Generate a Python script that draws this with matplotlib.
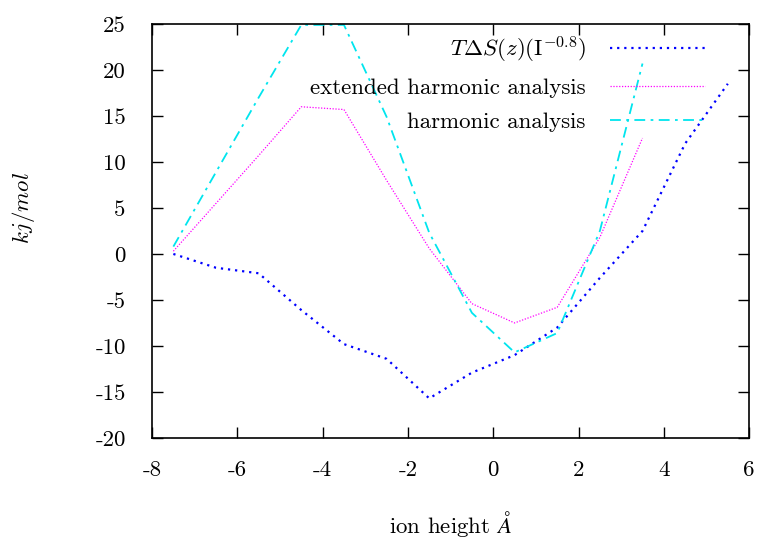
import matplotlib
matplotlib.use("Agg")
import matplotlib.pyplot as plt
import numpy as np

plt.rcParams["font.family"] = ["cmr10", "DejaVu Serif"]
plt.rcParams["mathtext.fontset"] = "cm"
plt.rcParams["axes.unicode_minus"] = False
plt.rcParams["axes.formatter.use_mathtext"] = False

# ion height positions
z = [-7.5, -6.5, -5.5, -4.5, -3.5, -2.5, -1.5, -0.5, 0.5, 1.5, 2.5, 3.5, 4.5, 5.5]
t_delta_s = [0.0, -1.5, -2.1, -6.1, -9.8, -11.4, -15.7, -12.9, -11.0, -8.0, -2.6, 2.5, 12.0, 18.5]

z_harm = [-7.5, -6.5, -5.5, -4.5, -3.5, -2.5, -1.5, -0.5, 0.5, 1.5, 2.5, 3.5]
ext_harmonic = [0.3, 5.5, 10.7, 16.0, 15.7, 8.0, 0.6, -5.4, -7.5, -5.8, 1.8, 12.6]
harmonic = [0.8, 8.9, 17.0, 24.9, 24.9, 14.9, 2.3, -6.4, -10.7, -8.6, 2.5, 20.7]

fs = 16.5

fig = plt.figure(figsize=(7.59, 5.40), dpi=100)
ax = fig.add_axes([0.2003, 0.189, 0.7867, 0.7666])

ax.plot(z, t_delta_s, color="#0000ff", lw=1.6, linestyle=(0, (1, 2.2)),
        label=r"$T\Delta S(z)(\mathrm{I}^{-0.8})$")
ax.plot(z_harm, ext_harmonic, color="#ff00ff", lw=0.9, linestyle=(0, (1, 1.3)),
        label="extended harmonic analysis")
ax.plot(z_harm, harmonic, color="#00e5ee", lw=1.3, linestyle=(0, (6, 3, 1.5, 3)),
        label="harmonic analysis")

ax.set_xlim(-8, 6)
ax.set_ylim(-20, 25)
ax.set_xticks(np.arange(-8, 7, 2))
ax.set_yticks(np.arange(-20, 26, 5))
ax.tick_params(direction="in", length=8, width=1, top=True, right=True,
               labelsize=fs)
ax.tick_params(axis="x", pad=16)
ax.tick_params(axis="y", pad=19)
for s in ax.spines.values():
    s.set_linewidth(1.2)

ax.set_xlabel(r"ion height $\AA$", fontsize=fs)
ax.xaxis.set_label_coords(0.5, -0.172)
ax.set_ylabel(r"$kj/mol$", fontsize=fs)
ax.yaxis.set_label_coords(-0.193, 0.555)

ax.legend(loc="upper right", bbox_to_anchor=(0.926, 0.975), frameon=False,
          markerfirst=False, fontsize=fs, handlelength=4.15,
          labelspacing=0.6, handletextpad=1.05, borderaxespad=0, borderpad=0)

fig.savefig("out.png", dpi=100)
